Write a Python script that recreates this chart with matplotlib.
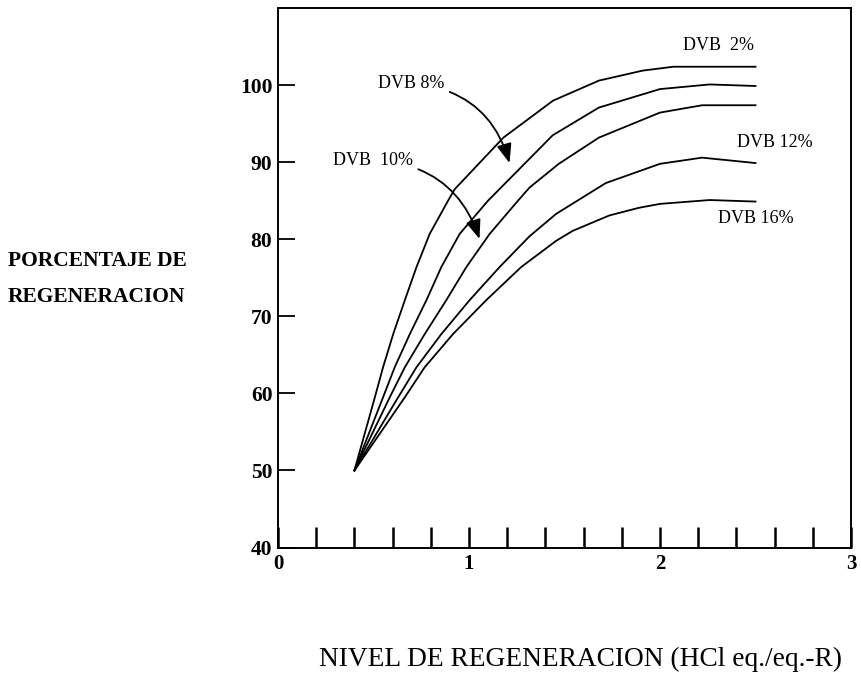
# regeneration level vs percent regeneration for several DVB crosslinkings
import matplotlib
matplotlib.use("Agg")
import matplotlib.pyplot as plt
import numpy as np

plt.rcParams['font.family'] = ['Liberation Serif', 'DejaVu Serif']

# curves (x = HCl eq./eq.-R, y = % regeneration)
x_dvb2 = [0.40, 0.507, 0.550, 0.603, 0.664, 0.725, 0.794, 0.890, 0.925, 1.18, 1.44, 1.68, 1.91, 2.07, 2.50]
y_dvb2 = [50.0, 59.5, 63.4, 67.7, 72.1, 76.4, 80.7, 85.0, 86.5, 93.2, 98.0, 100.6, 101.9, 102.4, 102.4]

x_dvb8 = [0.40, 0.550, 0.611, 0.690, 0.777, 0.855, 0.951, 1.099, 1.438, 1.68, 2.00, 2.26, 2.50]
y_dvb8 = [50.0, 59.5, 63.4, 67.7, 72.1, 76.4, 80.7, 85.0, 93.5, 97.1, 99.5, 100.1, 99.9]

x_dvb10 = [0.40, 0.585, 0.664, 0.768, 0.881, 0.986, 1.108, 1.256, 1.316, 1.47, 1.68, 2.00, 2.22, 2.50]
y_dvb10 = [50.0, 59.5, 63.4, 67.7, 72.1, 76.4, 80.7, 85.0, 86.7, 89.8, 93.2, 96.45, 97.4, 97.4]

x_dvb12 = [0.40, 0.629, 0.725, 0.855, 1.003, 1.160, 1.317, 1.456, 1.716, 2.00, 2.22, 2.50]
y_dvb12 = [50.0, 59.5, 63.4, 67.7, 72.1, 76.4, 80.4, 83.3, 87.3, 89.8, 90.6, 89.9]

x_dvb16 = [0.40, 0.664, 0.768, 0.916, 1.090, 1.273, 1.456, 1.543, 1.735, 1.891, 2.00, 2.26, 2.50]
y_dvb16 = [50.0, 59.5, 63.4, 67.7, 72.1, 76.4, 79.8, 81.1, 83.1, 84.1, 84.6, 85.1, 84.9]

x_ticks = [0, 1, 2, 3]
y_ticks = [40, 50, 60, 70, 80, 90, 100]

fig = plt.figure(figsize=(8.61, 6.81), dpi=100)
ax = fig.add_axes([0.3229, 0.196, 0.6655, 0.792])

for xs, ys in [(x_dvb2, y_dvb2), (x_dvb8, y_dvb8), (x_dvb10, y_dvb10),
               (x_dvb12, y_dvb12), (x_dvb16, y_dvb16)]:
    ax.plot(xs, ys, color='black', lw=1.3, solid_joinstyle='round')

ax.set_xlim(0, 3)
ax.set_ylim(40, 110)

# tick marks every 0.2 on x, labels only on whole numbers
xt = np.round(np.arange(0, 3.01, 0.2), 1)
ax.set_xticks(xt)
ax.set_xticklabels([str(int(v)) if v in x_ticks else '' for v in xt],
                   fontsize=15, fontweight='bold')
ax.set_yticks(y_ticks)
ax.set_yticklabels([str(v) for v in y_ticks], fontsize=15.5, fontweight='bold')
ax.tick_params(axis='x', direction='in', length=15, width=1.8, pad=5)
ax.tick_params(axis='y', direction='in', length=12.5, width=1.3, pad=4)
for s in ax.spines.values():
    s.set_linewidth(1.4)

# curve labels
ax.text(2.304, 105.2, 'DVB  2%', fontsize=13, ha='center', va='center')
ax.text(2.602, 92.6, 'DVB 12%', fontsize=13, ha='center', va='center')
ax.text(2.503, 82.7, 'DVB 16%', fontsize=13, ha='center', va='center')

arrow = dict(arrowstyle='-|>,head_length=0.9,head_width=0.35', color='black',
             lw=1.3, connectionstyle='arc3,rad=-0.35', shrinkA=2, shrinkB=0)
ax.annotate('DVB 8%', xy=(1.212, 89.9), xytext=(0.697, 100.2), fontsize=13,
            ha='center', va='center', arrowprops=arrow)
ax.annotate('DVB  10%', xy=(1.055, 80.05), xytext=(0.497, 90.2), fontsize=13,
            ha='center', va='center', arrowprops=arrow)

fig.text(0.0093, 0.617, 'PORCENTAJE DE', fontsize=15.5, fontweight='bold',
         ha='left', va='center')
fig.text(0.0093, 0.564, 'REGENERACION', fontsize=15.5, fontweight='bold',
         ha='left', va='center')
fig.text(0.674, 0.031, 'NIVEL DE REGENERACION (HCl eq./eq.-R)', fontsize=19.7,
         ha='center', va='center')

fig.savefig('out.png', dpi=100)
